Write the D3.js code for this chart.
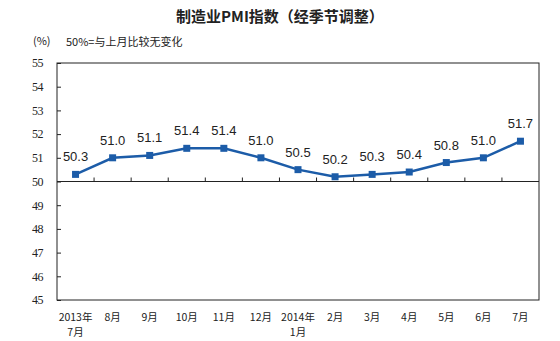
<!DOCTYPE html>
<html><head><meta charset="utf-8">
<script src="https://cdn.jsdelivr.net/npm/d3@7"></script>
<style>body{margin:0;background:#fff}svg{display:block}</style>
</head><body>
<svg id="c" width="560" height="341"></svg>
<script>
const categories = ["2013年\n7月","8月","9月","10月","11月","12月","2014年\n1月","2月","3月","4月","5月","6月","7月"];
const pmiValues = [50.3,51.0,51.1,51.4,51.4,51.0,50.5,50.2,50.3,50.4,50.8,51.0,51.7];
const yTicks = [45,46,47,48,49,50,51,52,53,54,55];
const titleText = "制造业PMI指数（经季节调整）";
const unitText = "(%)";
const noteText = "50%=与上月比较无变化";

const svg = d3.select("#c");
const m = {l:57, t:63, r:539, b:300};
const x = d3.scaleBand().domain(categories).range([m.l, m.r]);
const y = d3.scaleLinear().domain([45,55]).range([m.b, m.t]);
const cjk = "'Noto Sans CJK SC', sans-serif";
const serif = "'Liberation Serif','DejaVu Serif',serif";
const blue = "#1c5ca8";

svg.append("text").attr("x",280).attr("y",22).attr("text-anchor","middle")
  .attr("font-family",cjk).attr("font-size",15).attr("font-weight","bold").attr("fill","#222").text(titleText);
svg.append("text").attr("x",33).attr("y",45).attr("font-family",cjk).attr("font-size",11).attr("fill","#222").text(unitText);
svg.append("text").attr("x",66).attr("y",46).attr("font-family",cjk).attr("font-size",11).attr("fill","#222").text(noteText);

// frame
svg.append("rect").attr("x",m.l).attr("y",m.t).attr("width",m.r-m.l).attr("height",m.b-m.t)
  .attr("fill","none").attr("stroke","#222").attr("stroke-width",1);

// y axis
const yAxis = d3.axisLeft(y).tickValues(yTicks).tickSize(-4).tickPadding(14).tickFormat(d3.format("d"));
const gy = svg.append("g").attr("transform",`translate(${m.l},0)`).call(yAxis);
gy.select(".domain").remove();
gy.selectAll(".tick line").attr("stroke","#222");
gy.selectAll(".tick text").attr("font-family",serif).attr("font-size",12).attr("fill","#222")
  .attr("letter-spacing","-0.5px");

// x axis at 50
const bounds = categories.slice(1).map(c => x(c));
const gx = svg.append("g");
gx.append("line").attr("x1",m.l).attr("x2",m.r).attr("y1",y(50)).attr("y2",y(50)).attr("stroke","#222");
gx.selectAll("line.tk").data(bounds).join("line").attr("class","tk")
  .attr("x1",d=>d).attr("x2",d=>d).attr("y1",y(50)).attr("y2",y(50)-4).attr("stroke","#222");

// x labels
const xl = svg.append("g");
categories.forEach(c => {
  const lines = c.split("\n");
  lines.forEach((ln,i)=> xl.append("text").attr("x",x(c)+x.bandwidth()/2).attr("y",321+i*15)
    .attr("text-anchor","middle").attr("font-family",cjk).attr("font-size",10.5).attr("fill","#222").text(ln));
});

// line
const cx = (d,i) => x(categories[i]) + x.bandwidth()/2;
svg.append("path").datum(pmiValues)
  .attr("d", d3.line().x(cx).y(d=>y(d)))
  .attr("fill","none").attr("stroke",blue).attr("stroke-width",2.5);
svg.selectAll("rect.pt").data(pmiValues).join("rect").attr("class","pt")
  .attr("x",(d,i)=>cx(d,i)-3.5).attr("y",d=>y(d)-3.5).attr("width",7).attr("height",7).attr("fill",blue);
svg.selectAll("text.lbl").data(pmiValues).join("text").attr("class","lbl")
  .attr("x",cx).attr("y",d=>y(d)-13).attr("text-anchor","middle")
  .attr("font-family","'Liberation Sans',Arial,sans-serif").attr("font-size",13).attr("fill","#222")
  .text(d=>d.toFixed(1));
</script>
</body></html>
